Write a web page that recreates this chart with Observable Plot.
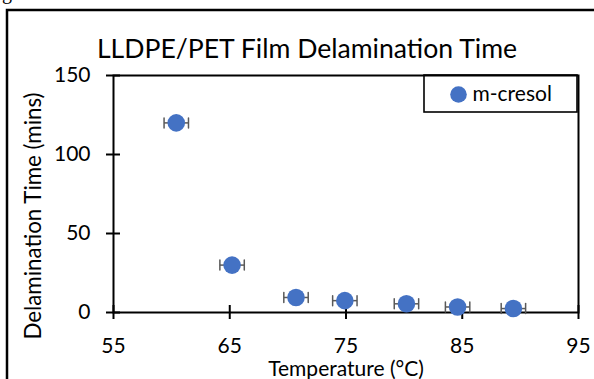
<!DOCTYPE html>
<html>
<head>
<meta charset="utf-8">
<script src="https://cdn.jsdelivr.net/npm/d3@7"></script>
<script src="https://cdn.jsdelivr.net/npm/@observablehq/plot@0.6"></script>
<style>
  html, body { margin: 0; padding: 0; background: #fff; }
  svg { display: block; }
</style>
</head>
<body>
<div id="chart"></div>
<script>
const titleText = "LLDPE/PET Film Delamination Time";
const xLabel = "Temperature (°C)";
const yLabel = "Delamination Time (mins)";
const seriesName = "m-cresol";
const temperature = [60.4, 65.2, 70.7, 74.9, 80.2, 84.6, 89.4];
const delamTime   = [120, 30, 9.5, 7.5, 5.5, 3.5, 2.5];
const tempError   = [1.05, 1.05, 1.05, 1.05, 1.05, 1.05, 1.05];
const xTicks = [55, 65, 75, 85, 95];
const yTicks = [0, 50, 100, 150];

const data = temperature.map((t, i) => ({t, y: delamTime[i], e: tempError[i]}));
const blue = "#4472C4";
const grey = "#595959";
const capShape = { draw(ctx, l) { ctx.moveTo(0, 0); ctx.lineTo(0, -l); } };

const chart = Plot.plot({
  width: 594,
  height: 379,
  marginLeft: 113,
  marginRight: 16,
  marginTop: 75,
  marginBottom: 67,
  style: { fontFamily: "Lato, 'Open Sans', sans-serif", fontSize: "21px", color: "black", background: "white", overflow: "hidden" },
  x: { domain: [55, 95], label: null },
  y: { domain: [0, 150], label: null },
  marks: [
    Plot.frame({ stroke: "black", strokeWidth: 2 }),
    Plot.axisX({ ticks: xTicks, tickSize: 0, tickPadding: 26, fontSize: 21, label: null }),
    Plot.axisX({ ticks: xTicks, tickSize: 14, dy: -7, strokeWidth: 2, tickFormat: () => "", label: null }),
    Plot.axisY({ ticks: yTicks, tickSize: 0, tickPadding: 23, fontSize: 21, label: null }),
    Plot.axisY({ ticks: yTicks, tickSize: 14, dx: 7, strokeWidth: 2, tickFormat: () => "", label: null }),
    // error bars
    Plot.link(data, { x1: d => d.t - d.e, x2: d => d.t + d.e, y1: "y", y2: "y", stroke: grey, strokeWidth: 1.5 }),
    Plot.vector(data, { x: d => d.t - d.e, y: "y", length: 10, rotate: 0, anchor: "middle", shape: capShape, stroke: grey, strokeWidth: 1.5 }),
    Plot.vector(data, { x: d => d.t + d.e, y: "y", length: 10, rotate: 0, anchor: "middle", shape: capShape, stroke: grey, strokeWidth: 1.5 }),
    Plot.dot(data, { x: "t", y: "y", r: 8.8, fill: blue, stroke: "none" }),
    // title & axis labels
    Plot.text([titleText], { frameAnchor: "top", dx: -39, dy: -18, lineAnchor: "bottom", fontSize: 26.6, fill: "black" }),
    Plot.text([xLabel], { frameAnchor: "bottom", dy: 63, lineAnchor: "bottom", fontSize: 21, fill: "black" }),
    Plot.text([yLabel], { frameAnchor: "left", dx: -80, dy: 22, rotate: -90, textAnchor: "middle", lineAnchor: "middle", fontSize: 22.3, fill: "black" }),
    // legend
    Plot.dot([seriesName], { frameAnchor: "top-right", dx: -120, dy: 19, r: 8.3, fill: blue, stroke: "none" }),
    Plot.text([seriesName], { frameAnchor: "top-right", dx: -106, dy: 19, textAnchor: "start", lineAnchor: "middle", fontSize: 21, fill: "black" })
  ]
});

const svgSel = d3.select(chart);
const xr = chart.scale("x").range;
const yr = chart.scale("y").range;
const frameRight = Math.max(...xr), frameTop = Math.min(...yr);
svgSel.append("rect")
  .attr("x", frameRight - 154).attr("y", frameTop)
  .attr("width", 153).attr("height", 37)
  .attr("fill", "none").attr("stroke", "black").attr("stroke-width", 1.6);
// outer figure border
svgSel.append("rect")
  .attr("x", 7).attr("y", 10).attr("width", 640).attr("height", 420)
  .attr("fill", "none").attr("stroke", "black").attr("stroke-width", 2.5);
svgSel.append("text")
  .attr("x", 12).attr("y", -1).attr("text-anchor", "end")
  .attr("font-family", "'Liberation Serif', serif").attr("font-size", 20)
  .text("Fig");

document.getElementById("chart").appendChild(chart);
</script>
</body>
</html>
